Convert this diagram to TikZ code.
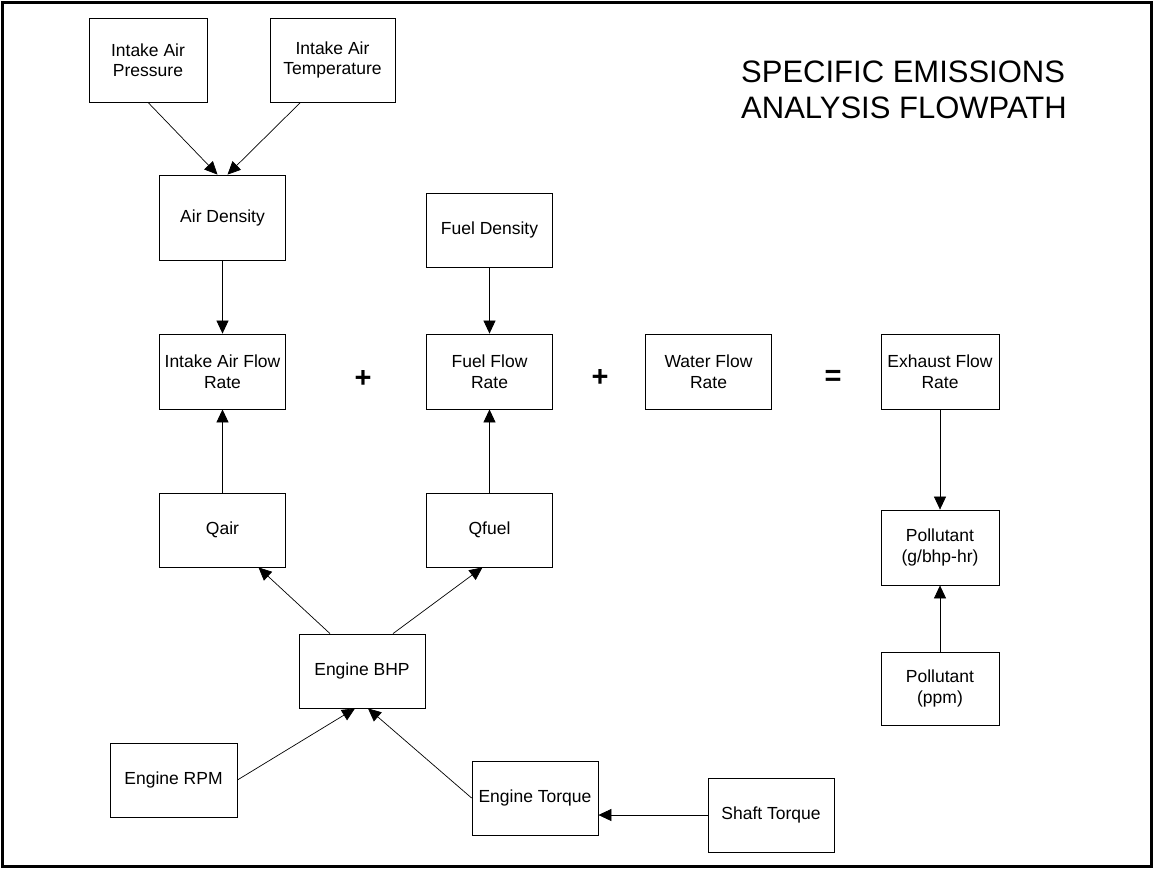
\documentclass[tikz,border=0pt]{standalone}
\usepackage{fontspec}
\setmainfont{Liberation Sans}
\usetikzlibrary{arrows.meta,positioning,calc}

\begin{document}
\begin{tikzpicture}[x=1pt,y=-1pt,
  box/.style={draw,line width=0.8pt,minimum width=126pt,minimum height=75pt,
    inner sep=2pt,align=center,font=\fontsize{17.5}{20.5}\selectfont},
  flow/.style={draw,line width=0.7pt,-{Triangle[length=13pt,width=12pt]}},
  sign/.style={font=\bfseries\fontsize{29}{29}\selectfont}]
  \useasboundingbox (0,0) rectangle (1154,873);
  % Frame
  \draw[line width=3pt] (2.5,2) rectangle (1151,866);
  % Title
  \node[anchor=north west,inner sep=0pt,align=left,
    font=\fontsize{31}{36}\selectfont] (title) at (741,61)
    {SPECIFIC EMISSIONS\\ANALYSIS FLOWPATH};

  % Air side
  \node[box,minimum width=118pt,minimum height=84pt] (pres) at (148,60) {Intake Air\\Pressure};
  \node[box,minimum width=125pt,minimum height=84pt] (temp) at (332.5,60) {Intake Air\\Temperature};
  \node[box,minimum height=85pt] (aird) at (222.5,217.5) {Air Density};
  \node[box] (iafr) at (222.5,371.5) {Intake Air Flow\\Rate};
  \node[box,minimum height=74pt] (qair) at (222.5,530) {Qair};

  % Fuel side
  \node[box,minimum height=74pt] (fueld) at (489.5,230) {Fuel Density};
  \node[box] (ffr) at (489.5,371.5) {Fuel Flow\\Rate};
  \node[box,minimum height=74pt] (qfuel) at (489.5,530) {Qfuel};

  % Water and exhaust
  \node[box] (wfr) at (708.5,371.5) {Water Flow\\Rate};
  \node[box,minimum width=118pt] (efr) at (940,371.5) {Exhaust Flow\\Rate};
  \node[box,minimum width=118pt] (pgb) at (940,547.5) {Pollutant\\(g/bhp-hr)};
  \node[box,minimum width=118pt,minimum height=73pt] (pppm) at (940,688.5) {Pollutant\\(ppm)};

  % Engine
  \node[box,minimum height=74pt] (bhp) at (362,671) {Engine BHP};
  \node[box,minimum width=127pt,minimum height=74pt] (rpm) at (173.5,780) {Engine RPM};
  \node[box,minimum height=74pt] (etq) at (535,798) {Engine Torque};
  \node[box,minimum height=74pt] (stq) at (771,815) {Shaft Torque};

  % Signs
  \node[sign] (plus1) at (363,379) {+};
  \node[sign] (plus2) at (600,378) {+};
  \node[sign] (equal) at (833,378) {=};

  % Connectors
  \draw[flow] (pres.south) -- ([xshift=-5pt]aird.north);
  \draw[flow] ([xshift=-32pt]temp.south) -- ([xshift=5pt]aird.north);
  \draw[flow] (aird.south) -- (iafr.north);
  \draw[flow] (qair.north) -- (iafr.south);
  \draw[flow] (fueld.south) -- (ffr.north);
  \draw[flow] (qfuel.north) -- (ffr.south);
  \draw[flow] ([xshift=-32pt]bhp.north) -- ([xshift=36pt]qair.south);
  \draw[flow] ([xshift=31pt]bhp.north) -- ([xshift=-7pt]qfuel.south);
  \draw[flow] (rpm.east) -- ([xshift=-7pt]bhp.south);
  \draw[flow] (etq.west) -- ([xshift=6pt]bhp.south);
  \draw[flow] (stq.west) -- (stq.west -| etq.east);
  \draw[flow] (efr.south) -- (pgb.north);
  \draw[flow] (pppm.north) -- (pgb.south);
\end{tikzpicture}
\end{document}
